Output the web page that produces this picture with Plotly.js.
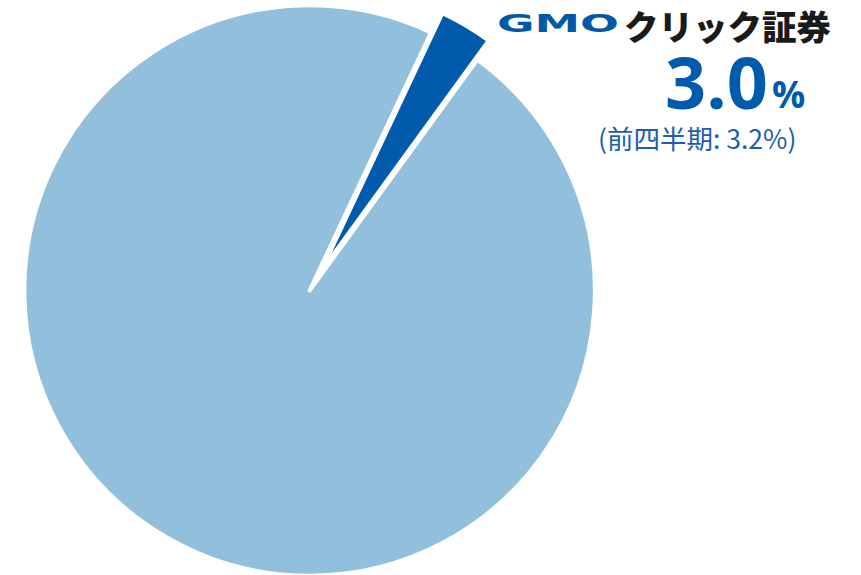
<!DOCTYPE html>
<html>
<head>
<meta charset="utf-8">
<script src="https://cdn.plot.ly/plotly-3.0.1.min.js"></script>
<style>
  html, body { margin: 0; padding: 0; width: 861px; height: 575px; overflow: hidden; background: #fff; }
  #chart { position: absolute; left: 0; top: -17px; width: 861px; height: 615px; }
</style>
</head>
<body>
<div id="chart"></div>
<script>
// ---- data ----
const sliceLabels = ['GMOクリック証券', 'その他'];
const sliceValues = [3.0, 97.0];
const sliceColors = ['#005BAC', '#92BFDB'];
const sharePct = '3.0';
const prevQuarterText = '(前四半期: 3.2%)';
const brandLatin = 'GMO';
const brandKana = 'クリック証券';

// ---- layout helpers (page pixel -> paper coords) ----
const W = 861, H = 615, TOP = -17;
const px = x => x / W;
const py = y => 1 - (y - TOP) / H;

const trace = {
  type: 'pie',
  labels: sliceLabels,
  values: sliceValues,
  sort: false,
  direction: 'clockwise',
  rotation: 25.2,
  pull: [0.078, 0],
  marker: { colors: sliceColors, line: { color: '#ffffff', width: 4 } },
  textinfo: 'none',
  hoverinfo: 'label+percent',
  domain: { x: [0, 0.7192], y: [0, 1] },
  showlegend: false
};

const layout = {
  width: W, height: H,
  margin: { l: 0, r: 0, t: 0, b: 0 },
  paper_bgcolor: '#ffffff',
  plot_bgcolor: '#ffffff',
  showlegend: false,
  annotations: [
    { xref: 'paper', yref: 'paper', x: px(495), y: py(24), xanchor: 'left', yanchor: 'middle',
      text: '<b>' + brandLatin + '</b>', showarrow: false,
      font: { family: 'DejaVu Sans', size: 24, color: '#0058A9', weight: 700 } },
    { xref: 'paper', yref: 'paper', x: px(622), y: py(25), xanchor: 'left', yanchor: 'middle',
      text: brandKana, showarrow: false,
      font: { family: 'Noto Sans CJK JP', size: 34.5, color: '#1a1a1a', weight: 900 } },
    { xref: 'paper', yref: 'paper', x: px(770), y: py(81), xanchor: 'right', yanchor: 'middle',
      text: '<b>' + sharePct + '</b>', showarrow: false,
      font: { family: 'Open Sans', size: 72, color: '#005BAC', weight: 700 } },
    { xref: 'paper', yref: 'paper', x: px(770), y: py(94), xanchor: 'left', yanchor: 'middle',
      text: '<b>%</b>', showarrow: false,
      font: { family: 'Open Sans', size: 37, color: '#005BAC', weight: 700 } },
    { xref: 'paper', yref: 'paper', x: px(697), y: py(137), xanchor: 'center', yanchor: 'middle',
      text: prevQuarterText, showarrow: false,
      font: { family: 'Noto Sans CJK JP', size: 26.5, color: '#1B5EAD' } }
  ]
};

Plotly.newPlot('chart', [trace], layout, { staticPlot: true, displayModeBar: false }).then(gd => {
  // stretch the GMO letters horizontally to resemble the extended wordmark (target width ~122px)
  gd.querySelectorAll('.annotation-text').forEach(t => {
    if (t.textContent === brandLatin) {
      const bb = t.getBBox();
      const s = 122 / bb.width;
      t.setAttribute('transform',
        'translate(' + bb.x + ',0) scale(' + s + ',1) translate(' + (-bb.x) + ',0)');
    }
  });
});
</script>
</body>
</html>
